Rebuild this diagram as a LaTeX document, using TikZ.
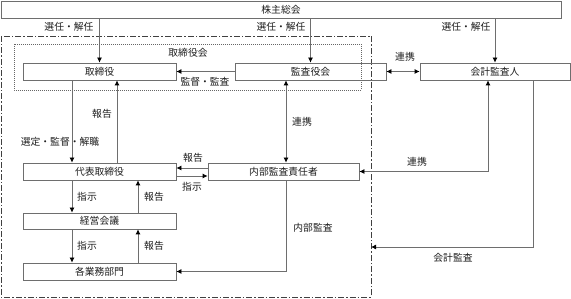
\documentclass[tikz,border=0pt]{standalone}
\usepackage{fontspec}
\setmainfont{Noto Sans CJK JP}
\usetikzlibrary{arrows.meta}
\definecolor{linec}{RGB}{110,110,110}
\definecolor{txtc}{RGB}{30,30,30}
\begin{document}
\begin{tikzpicture}[x=1pt,y=-1pt,
  box/.style={draw=linec, line width=0.8pt, rectangle, inner sep=0pt,
    minimum height=17pt, font=\fontsize{9.8}{11}\selectfont, text=txtc},
  lab/.style={inner sep=0pt, font=\fontsize{9.8}{11}\selectfont, text=txtc},
  tip/.style={Latex[length=5pt,width=5pt,color=black]},
  arr/.style={draw=linec, line width=0.8pt, -{Latex[length=5pt,width=5pt,color=black]}},
  darr/.style={draw=linec, line width=0.8pt, {Latex[length=5pt,width=5pt,color=black]}-{Latex[length=5pt,width=5pt,color=black]}},
  outerbox/.style={draw=black!75, line width=0.9pt, dash pattern=on 6pt off 2pt on 1.5pt off 2pt},
  innerbox/.style={draw=black!60, line width=0.7pt, dash pattern=on 0.8pt off 1.2pt}
]
\useasboundingbox (0,0) rectangle (571,299);

% group frames
\draw[outerbox] (1,36) rectangle (371,297);
\draw[innerbox] (14,44) rectangle (361,90);
\node[lab] (torikai) at (188,53) {取締役会};
\coordinate (outerR) at (371,247);

% boxes
\node[box, minimum width=560pt] (sh) at (281,9.5) {株主総会};
\node[box, minimum width=153pt] (tori) at (99.5,71.5) {取締役};
\node[box, minimum width=151pt] (kansa) at (310.5,71.5) {監査役会};
\node[box, minimum width=150pt] (kaikei) at (495,71.5) {会計監査人};
\node[box, minimum width=153pt] (daihyo) at (99.5,171.5) {代表取締役};
\node[box, minimum width=151pt] (naibu) at (283.5,171.5) {内部監査責任者};
\node[box, minimum width=153pt, minimum height=16pt] (keiei) at (99.5,221) {経営会議};
\node[box, minimum width=153pt] (gyomu) at (99.5,271.5) {各業務部門};

% shareholders meeting
\draw[arr] (sh.south -| tori.north) -- (tori.north);
\draw[arr] (sh.south -| kansa.north) -- (kansa.north);
\draw[arr] (sh.south -| kaikei.north) -- (kaikei.north);
\node[lab] (l1) at (69,27) {選任・解任};
\node[lab] (l2) at (281,27) {選任・解任};
\node[lab] (l3) at (466,27) {選任・解任};

% board level
\draw[arr] (kansa.west) -- (tori.east);
\node[lab] (l4) at (205,82) {監督・監査};
\draw[darr] (kansa.east) -- (kaikei.west);
\node[lab] (l5) at (405,57) {連携};

% board <-> representative director
\draw[arr] ([xshift=-27.5pt]tori.south) -- ([xshift=-27.5pt]daihyo.north);
\draw[arr] ([xshift=17.5pt]daihyo.north) -- ([xshift=17.5pt]tori.south);
\node[lab] (l6) at (102,114) {報告};
\node[lab] (l7) at (60,142) {選定・監督・解職};

% audit board <-> internal audit
\coordinate (nN) at ([xshift=2.5pt]naibu.north);
\coordinate (nS) at ([xshift=2.5pt]naibu.south);
\draw[darr] (nN |- kansa.south) -- (nN);
\node[lab] (l8) at (302,122) {連携};

% representative <-> internal audit
\draw[arr] ([yshift=3.5pt]naibu.west) -- ([yshift=3.5pt]daihyo.east);
\node[lab] (l9) at (193,158) {報告};
\draw[arr] ([yshift=-4.5pt]daihyo.east) -- ([yshift=-4.5pt]naibu.west);
\node[lab] (l10) at (192,187) {指示};

% accounting auditor links
\coordinate (kS1) at ([xshift=-7pt]kaikei.south);
\coordinate (kS2) at ([xshift=38pt]kaikei.south);
\draw[darr] (kS1) |- (naibu.east);
\node[lab] (l11) at (417,162) {連携};
\draw[arr] (kS2) |- (outerR);
\node[lab] (l12) at (453,258) {会計監査};

% internal audit
\draw[arr] (nS) |- (gyomu.east);
\node[lab] (l13) at (313,228) {内部監査};

% management chain
\draw[arr] ([xshift=-27.5pt]daihyo.south) -- ([xshift=-27.5pt]keiei.north);
\draw[arr] ([xshift=38.5pt]keiei.north) -- ([xshift=38.5pt]daihyo.south);
\node[lab] (l14) at (87,197) {指示};
\node[lab] (l15) at (154,197) {報告};
\draw[arr] ([xshift=-27.5pt]keiei.south) -- ([xshift=-27.5pt]gyomu.north);
\draw[arr] ([xshift=38.5pt]gyomu.north) -- ([xshift=38.5pt]keiei.south);
\node[lab] (l16) at (87,246) {指示};
\node[lab] (l17) at (154,246) {報告};
\end{tikzpicture}
\end{document}
